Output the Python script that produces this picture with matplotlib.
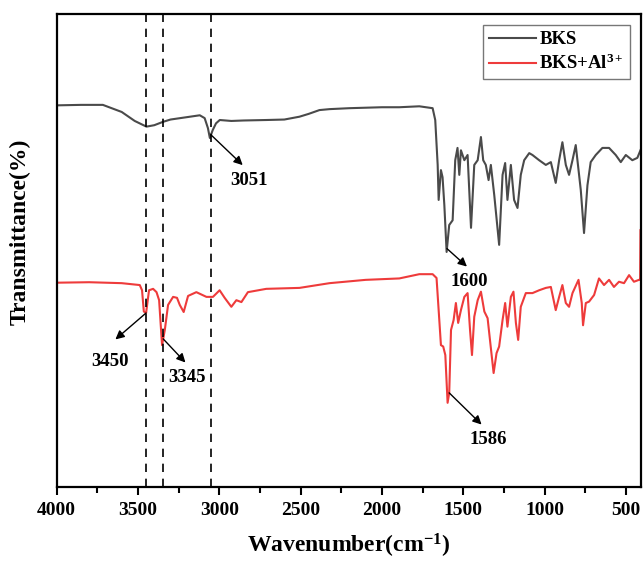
import numpy as np
import matplotlib.pyplot as plt

plt.rcParams['font.family'] = 'Liberation Serif'
plt.rcParams['font.weight'] = 'bold'
plt.rcParams['mathtext.fontset'] = 'custom'
plt.rcParams['mathtext.rm'] = 'Liberation Serif:bold'
plt.rcParams['mathtext.it'] = 'Liberation Serif:bold'
plt.rcParams['mathtext.bf'] = 'Liberation Serif:bold'

# BKS spectrum (wavenumber, transmittance in arbitrary offset units)
bks_wn = [4000, 3850, 3716, 3600, 3520, 3448, 3400, 3347, 3300, 3200, 3120, 3090, 3070, 3058,
          3040, 3020, 2997, 2926, 2850, 2711, 2600, 2507, 2450, 2384, 2322, 2200, 2000, 1893,
          1770, 1688, 1672, 1657, 1651, 1637, 1627, 1616, 1602, 1586, 1565, 1549, 1535, 1524,
          1514, 1493, 1473, 1452, 1432, 1411, 1391, 1377, 1361, 1344, 1330, 1309, 1279, 1258,
          1242, 1228, 1207, 1187, 1166, 1146, 1125, 1094, 1074, 1033, 992, 961, 931, 910, 890,
          869, 849, 828, 808, 777, 757, 736, 716, 685, 644, 603, 562, 531, 500, 460, 429, 410]
bks_t = [80.7, 80.8, 80.8, 79.3, 77.4, 76.2, 76.5, 77.2, 77.7, 78.2, 78.6, 78.0, 75.9, 73.8,
         75.5, 76.9, 77.6, 77.4, 77.5, 77.6, 77.7, 78.3, 78.9, 79.7, 79.9, 80.1, 80.3, 80.3,
         80.5, 80.1, 77.6, 68.1, 60.7, 67.0, 65.5, 59.6, 49.7, 55.4, 56.4, 69.1, 71.7, 66.0,
         71.2, 69.1, 70.2, 54.8, 68.1, 69.1, 74.0, 69.1, 68.1, 64.9, 68.1, 61.7, 51.2, 66.0,
         68.5, 60.7, 68.1, 60.7, 59.0, 66.0, 69.1, 70.6, 70.2, 69.1, 68.1, 68.7, 64.3, 69.1, 72.9,
         68.1, 66.0, 69.1, 72.3, 62.8, 53.7, 63.8, 68.7, 70.2, 71.7, 71.7, 70.2, 68.7, 70.2, 69.1,
         69.6, 71.2]

# BKS + Al3+ spectrum
al_wn = [4000, 3800, 3600, 3489, 3475, 3464, 3450, 3440, 3432, 3407, 3386, 3370, 3360, 3352,
         3335, 3315, 3284, 3260, 3243, 3219, 3192, 3141, 3079, 3039, 2998, 2967, 2926, 2895,
         2864, 2824, 2711, 2507, 2322, 2100, 1893, 1770, 1688, 1664, 1647, 1637, 1623, 1610,
         1596, 1586, 1575, 1559, 1545, 1531, 1514, 1493, 1473, 1458, 1446, 1432, 1411, 1391,
         1370, 1350, 1330, 1313, 1295, 1279, 1258, 1242, 1228, 1207, 1191, 1176, 1162, 1146,
         1115, 1074, 1033, 992, 961, 931, 910, 890, 869, 849, 828, 791, 771, 763, 746, 726, 695,
         665, 634, 603, 573, 542, 511, 480, 450, 419, 412, 410]
al_t = [43.2, 43.3, 43.1, 42.7, 41.6, 37.1, 36.8, 39.5, 41.6, 41.9, 41.2, 39.5, 34.2, 30.0,
        33.2, 38.5, 40.2, 40.0, 38.5, 37.0, 40.4, 41.2, 40.2, 40.2, 41.6, 40.0, 38.1, 39.5,
        39.1, 41.2, 41.9, 42.1, 43.1, 43.8, 44.1, 45.0, 45.0, 44.2, 35.3, 30.0, 29.7, 27.9,
        17.8, 19.9, 33.2, 35.3, 38.9, 34.7, 37.4, 40.2, 41.0, 33.2, 27.9, 36.0, 39.5, 41.3,
        37.1, 35.7, 29.4, 24.1, 28.3, 29.7, 35.3, 38.9, 33.9, 40.2, 41.3, 34.7, 31.1, 38.1,
        41.0, 41.0, 41.6, 42.1, 42.3, 37.4, 40.2, 42.7, 38.9, 38.1, 41.0, 43.8, 38.9, 34.2,
        38.9, 39.2, 40.6, 44.1, 42.7, 43.8, 42.3, 43.4, 43.1, 44.8, 43.4, 43.8, 43.8, 54.3]

dashed_peaks = [3450, 3345, 3051]

# (label, which curve, arrow dx, arrow dy, text dx, text dy)
peak_labels = [
    ('3051', 'bks', -195, -6.4, -233, -9.7),
    ('1600', 'bks', -123, -3.8, -139, -7.0),
    ('3450', 'al', 189, -5.6, 221, -10.2),
    ('3345', 'al', -137, -5.0, -147, -8.1),
    ('1586', 'al', -199, -6.7, -240, -9.9),
]

fig = plt.figure(figsize=(6.44, 5.63), dpi=100)
ax = fig.add_axes([0.088, 0.135, 0.907, 0.840])

ax.plot(bks_wn, bks_t, color='#4a4a4a', lw=1.5, label='BKS')
ax.plot(al_wn, al_t, color='#ee3b3b', lw=1.5, label='BKS+Al$^{3+}$')

for p in dashed_peaks:
    ax.axvline(p, color='black', ls=(0, (5, 4)), lw=1.2)

curves = {'bks': (bks_wn, bks_t), 'al': (al_wn, al_t)}
for lab, c, adx, ady, tdx, tdy in peak_labels:
    wn, t = curves[c]
    x0 = float(lab)
    y0 = np.interp(-x0, -np.array(wn), t)
    ax.annotate('', xy=(x0 + adx, y0 + ady), xytext=(x0, y0),
                arrowprops=dict(arrowstyle='-|>', color='black', lw=1.0,
                                mutation_scale=13, shrinkA=0, shrinkB=0))
    ax.text(x0 + tdx, y0 + tdy, lab, ha='center', va='center',
            fontsize=13.5, fontweight='bold')

ax.set_xlim(4000, 408)
ax.set_ylim(0, 100)
ax.set_xticks(np.arange(4000, 499, -500))
ax.set_xticks(np.arange(3750, 499, -500), minor=True)
ax.set_yticks([])
ax.tick_params(axis='x', which='major', direction='out', length=6, width=1.5,
               labelsize=14, pad=5)
ax.tick_params(axis='x', which='minor', direction='out', length=4, width=1.5)
for s in ax.spines.values():
    s.set_linewidth(1.6)

ax.set_xlabel('Wavenumber(cm$^{-1}$)', fontsize=17, fontweight='bold', labelpad=9)
ax.set_ylabel('Transmittance(%)', fontsize=17, fontweight='bold')
ax.yaxis.set_label_coords(-0.045, 0.54)

leg = ax.legend(loc='upper right', fontsize=13.5, frameon=True, fancybox=False,
                edgecolor='#555555', handlelength=2.5, borderaxespad=0.6,
                borderpad=0.3, labelspacing=0.3, handletextpad=0.2)
leg.get_frame().set_linewidth(1.0)

fig.savefig('out.png', dpi=100)
